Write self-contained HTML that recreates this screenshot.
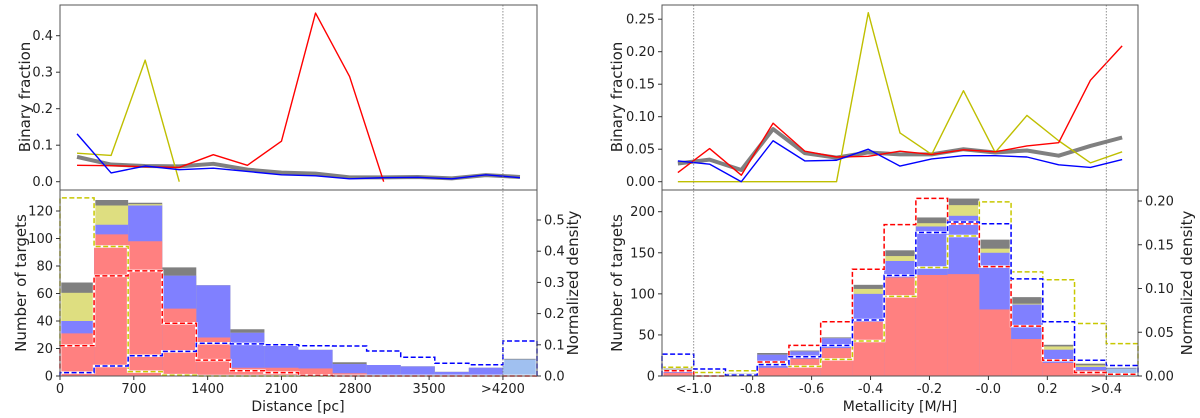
<!DOCTYPE html>
<html><head><meta charset="utf-8">
<style>
html,body{margin:0;padding:0;background:#fff;}
svg{display:block;font-family:"DejaVu Sans","Liberation Sans",sans-serif;}
</style></head>
<body>
<svg id="chart" width="1200" height="418" viewBox="0 0 1200 418" xmlns="http://www.w3.org/2000/svg"></svg>
<script>
// ---------- Distance panel data ----------
const distTickLabels = ["0","700","1400","2100","2800","3500",">4200"];
const distTickValues = [0,700,1400,2100,2800,3500,4200];
const distCountTicks = [0,20,40,60,80,100,120];
const distDensTicks = [0,0.1,0.2,0.3,0.4,0.5];
const distGray   = [68,128,126,79,66,34,23,19,10,8,7,3,6,12.5];
const distYellow = [60.5,124,125,73,66,31.5,23,19,8.7,8,7,3,6,12];
const distBlue   = [40,110,124,73,66,31.5,23,19,8.7,8,7,3,6,12];
const distRed    = [31,103,98,49,28,6,6,5.5,2,0.5,0.3,0,0,0];
const distDensYellow = [0.571,0.415,0.014,0.003,0,0,0,0,0,0,0,0,0,0];
const distDensRed    = [0.097,0.321,0.337,0.169,0.051,0.017,0.011,0.002,0,0,0,0,0,0];
const distDensBlue   = [0.011,0.032,0.065,0.079,0.105,0.103,0.1,0.097,0.096,0.08,0.06,0.041,0.036,0.112];
const distFracRed    = [0.045,0.044,0.041,0.039,0.074,0.045,0.111,0.462,0.288,0.0];
const distFracYellow = [0.078,0.072,0.333,0.0];
const distFracBlue   = [0.131,0.024,0.043,0.033,0.037,0.028,0.019,0.016,0.008,0.011,0.012,0.008,0.019,0.011];
const distFracGray   = [0.068,0.047,0.043,0.042,0.049,0.033,0.025,0.022,0.012,0.012,0.013,0.009,0.018,0.013];
const distFracTicks = [0,0.1,0.2,0.3,0.4];

// ---------- Metallicity panel data ----------
const metTickLabels = ["<-1.0","-0.8","-0.6","-0.4","-0.2","-0.0","0.2",">0.4"];
const metTickValues = [-1.0,-0.8,-0.6,-0.4,-0.2,0.0,0.2,0.4];
const metCountTicks = [0,50,100,150,200];
const metDensTicks = [0,0.05,0.10,0.15,0.20];
const metDensTickLabels = ["0.00","0.05","0.10","0.15","0.20"];
const metGray   = [9,1,3,28,31,47,111,153,193,216,166,96,38,15,10];
const metYellow = [8,1,2,26,30,46,106,146,186,208,155,88,36,13,9];
const metBlue   = [7,1,2,26,30,46,100,140,182,195,150,87,32,11,9];
const metRed    = [4,0.5,1,10,21,34,66,120,123,124,81,45,16,7,0];
const metDensRed    = [0.006,0,0.001,0.016,0.035,0.062,0.122,0.173,0.203,0.174,0.125,0.057,0.018,0.004,0.002];
const metDensBlue   = [0.025,0.008,0.001,0.013,0.022,0.035,0.064,0.115,0.164,0.176,0.174,0.111,0.062,0.018,0.012];
const metDensYellow = [0.010,0.004,0.006,0.014,0.011,0.019,0.040,0.091,0.124,0.160,0.199,0.119,0.110,0.060,0.037];
const metFracRed    = [0.014,0.051,0.010,0.090,0.047,0.038,0.039,0.047,0.042,0.049,0.046,0.055,0.060,0.156,0.209];
const metFracBlue   = [0.032,0.027,0.0,0.063,0.032,0.033,0.050,0.024,0.035,0.040,0.040,0.038,0.026,0.022,0.034];
const metFracYellow = [0,0,0,0,0,0,0.260,0.075,0.042,0.140,0.045,0.102,0.063,0.029,0.046];
const metFracGray   = [0.028,0.034,0.018,0.081,0.044,0.037,0.045,0.042,0.042,0.050,0.045,0.048,0.040,0.055,0.068];
const metFracTicks = [0,0.05,0.10,0.15,0.20,0.25];
const metFracTickLabels = ["0.00","0.05","0.10","0.15","0.20","0.25"];

const NS = "http://www.w3.org/2000/svg";
const svg = document.getElementById("chart");
function mk(tag, attrs, parent){ const e=document.createElementNS(NS,tag); for(const k in attrs) e.setAttribute(k,attrs[k]); (parent||svg).appendChild(e); return e; }

const dW = 4200/13, dMax = 14*dW;
const xL = v => 60 + v/dMax*477;
const mW = 1.4/13, mMin = -1.0-mW, mMax = 0.4+mW;
const xR = v => 662 + (v-mMin)/(mMax-mMin)*476;
const yTL = v => 181.7 - 365*v;
const yTR = v => 181.7 - 650*v;
const yBLc = c => 376 - 1.375*c;
const yBLd = d => 376 - 312*d;
const yBRc = c => 376 - 0.8215*c;
const yBRd = d => 376 - 875*d;

function bars(g, vals, x0, w, xs, ys, fill, name){
  vals.forEach((v,i)=>{
    if(v<=0) return;
    const xa = xs(x0+i*w), xb = xs(x0+(i+1)*w);
    const r = mk("rect",{x:xa,y:ys(v),width:xb-xa,height:ys(0)-ys(v),fill:fill},g);
    
    
  });
}
function steps(g, vals, x0, w, xs, ys, color, name){
  let d = "M"+xs(x0)+","+ys(0);
  vals.forEach((v,i)=>{ d += " L"+xs(x0+i*w)+","+ys(v)+" L"+xs(x0+(i+1)*w)+","+ys(v); });
  d += " L"+xs(x0+vals.length*w)+","+ys(0);
  mk("path",{d:d,fill:"none",stroke:"#fff","stroke-width":2.5},g);
  const p = mk("path",{d:d,fill:"none",stroke:color,"stroke-width":1.5,"stroke-dasharray":"5,2.5"},g);
  
  
}
function line(g, vals, x0, w, xs, ys, color, width, name){
  const pts = vals.map((v,i)=> xs(x0+(i+0.5)*w)+","+ys(v)).join(" ");
  const p = mk("polyline",{points:pts,fill:"none",stroke:color,"stroke-width":width,"stroke-linejoin":"round"},g);
  
  
}
function txt(x,y,s,attrs,name){
  const t = mk("text",Object.assign({x:x,y:y,"font-size":13,fill:"#222"},attrs||{}));
  t.textContent = s;
  
  
  return t;
}
function frame(x1,x2,y1,y2,name){
  const r = mk("rect",{x:x1,y:y1,width:x2-x1,height:y2-y1,fill:"none",stroke:"#555","stroke-width":1});
  
  
}
function vdot(x,y1,y2){ mk("line",{x1:x,x2:x,y1:y1,y2:y2,stroke:"#777","stroke-width":0.8,"stroke-dasharray":"1.5,1.5"}); }

// ===== LEFT: Distance =====
const gBL = mk("g",{});


bars(gBL, distGray, 0, dW, xL, yBLc, "#808080", "dist-gray");
bars(gBL, distYellow, 0, dW, xL, yBLc, "#dede80", "dist-yellow");
bars(gBL, distBlue, 0, dW, xL, yBLc, "#8080ff", "dist-blue");
bars(gBL, distRed, 0, dW, xL, yBLc, "#ff8080", "dist-red");
const ovr = mk("rect",{x:xL(13*dW),y:yBLc(distBlue[13]),width:xL(14*dW)-xL(13*dW),height:yBLc(0)-yBLc(distBlue[13]),fill:"#a0c0f0"},gBL);


steps(gBL, distDensYellow, 0, dW, xL, yBLd, "#c8c800", "dist-yellow");
steps(gBL, distDensRed, 0, dW, xL, yBLd, "#ff0000", "dist-red");
steps(gBL, distDensBlue, 0, dW, xL, yBLd, "#0000ff", "dist-blue");

const gTL = mk("g",{});


line(gTL, distFracGray, 0, dW, xL, yTL, "#808080", 4, "dist-frac-all");
line(gTL, distFracYellow, 0, dW, xL, yTL, "#bfbf00", 1.4, "dist-frac-yellow");
line(gTL, distFracRed, 0, dW, xL, yTL, "#ff0000", 1.4, "dist-frac-red");
line(gTL, distFracBlue, 0, dW, xL, yTL, "#0000ff", 1.4, "dist-frac-blue");

vdot(xL(4200),5,376);
frame(60,537,5,190,"distance-top-axes");
frame(60,537,190,376,"distance-bottom-axes");

distFracTicks.forEach(v=>{ mk("line",{x1:56,x2:60,y1:yTL(v),y2:yTL(v),stroke:"#333"}); txt(53,yTL(v)+4.5,v.toFixed(1),{"text-anchor":"end"},"dist-frac-tick"); });
distCountTicks.forEach(v=>{ mk("line",{x1:56,x2:60,y1:yBLc(v),y2:yBLc(v),stroke:"#333"}); txt(53,yBLc(v)+4.5,String(v),{"text-anchor":"end"},"dist-count-tick"); });
distDensTicks.forEach(v=>{ mk("line",{x1:537,x2:541,y1:yBLd(v),y2:yBLd(v),stroke:"#333"}); txt(544,yBLd(v)+4.5,v.toFixed(1),{},"dist-density-tick"); });
distTickValues.forEach((v,i)=>{ mk("line",{x1:xL(v),x2:xL(v),y1:376,y2:380,stroke:"#333"}); txt(xL(v),393,distTickLabels[i],{"text-anchor":"middle"},"distance-tick"); });
txt(298,411,"Distance [pc]",{"text-anchor":"middle","font-size":14},"distance-x-title");
txt(0,0,"Binary fraction",{"text-anchor":"middle","font-size":15,transform:"translate(30,97) rotate(-90)"},"dist-binary-fraction-y-title");
txt(0,0,"Number of targets",{"text-anchor":"middle","font-size":15,transform:"translate(26,283) rotate(-90)"},"dist-count-y-title");
txt(0,0,"Normalized density",{"text-anchor":"middle","font-size":15,transform:"translate(578,283) rotate(-90)"},"dist-density-y-title");

// ===== RIGHT: Metallicity =====
const gBR = mk("g",{});


bars(gBR, metGray, mMin, mW, xR, yBRc, "#808080", "met-gray");
bars(gBR, metYellow, mMin, mW, xR, yBRc, "#dede80", "met-yellow");
bars(gBR, metBlue, mMin, mW, xR, yBRc, "#8080ff", "met-blue");
bars(gBR, metRed, mMin, mW, xR, yBRc, "#ff8080", "met-red");
const ovr2 = mk("rect",{x:xR(0.4),y:yBRc(metBlue[14]),width:xR(mMax)-xR(0.4),height:yBRc(0)-yBRc(metBlue[14]),fill:"#a0c0f0"},gBR);


steps(gBR, metDensYellow, mMin, mW, xR, yBRd, "#c8c800", "met-yellow");
steps(gBR, metDensRed, mMin, mW, xR, yBRd, "#ff0000", "met-red");
steps(gBR, metDensBlue, mMin, mW, xR, yBRd, "#0000ff", "met-blue");

const gTR = mk("g",{});


line(gTR, metFracGray, mMin, mW, xR, yTR, "#808080", 4, "met-frac-all");
line(gTR, metFracYellow, mMin, mW, xR, yTR, "#bfbf00", 1.4, "met-frac-yellow");
line(gTR, metFracRed, mMin, mW, xR, yTR, "#ff0000", 1.4, "met-frac-red");
line(gTR, metFracBlue, mMin, mW, xR, yTR, "#0000ff", 1.4, "met-frac-blue");

vdot(xR(-1.0),5,376);
vdot(xR(0.4),5,376);
frame(662,1138,5,190,"metallicity-top-axes");
frame(662,1138,190,376,"metallicity-bottom-axes");

metFracTicks.forEach((v,i)=>{ mk("line",{x1:658,x2:662,y1:yTR(v),y2:yTR(v),stroke:"#333"}); txt(655,yTR(v)+4.5,metFracTickLabels[i],{"text-anchor":"end"},"met-frac-tick"); });
metCountTicks.forEach(v=>{ mk("line",{x1:658,x2:662,y1:yBRc(v),y2:yBRc(v),stroke:"#333"}); txt(655,yBRc(v)+4.5,String(v),{"text-anchor":"end"},"met-count-tick"); });
metDensTicks.forEach((v,i)=>{ mk("line",{x1:1138,x2:1142,y1:yBRd(v),y2:yBRd(v),stroke:"#333"}); txt(1145,yBRd(v)+4.5,metDensTickLabels[i],{},"met-density-tick"); });
metTickValues.forEach((v,i)=>{ mk("line",{x1:xR(v),x2:xR(v),y1:376,y2:380,stroke:"#333"}); txt(xR(v),393,metTickLabels[i],{"text-anchor":"middle"},"metallicity-tick"); });
txt(900,411,"Metallicity [M/H]",{"text-anchor":"middle","font-size":14},"metallicity-x-title");
txt(0,0,"Binary fraction",{"text-anchor":"middle","font-size":15,transform:"translate(622,97) rotate(-90)"},"met-binary-fraction-y-title");
txt(0,0,"Number of targets",{"text-anchor":"middle","font-size":15,transform:"translate(622,283) rotate(-90)"},"met-count-y-title");
txt(0,0,"Normalized density",{"text-anchor":"middle","font-size":15,transform:"translate(1192,283) rotate(-90)"},"met-density-y-title");
</script>
</body></html>
